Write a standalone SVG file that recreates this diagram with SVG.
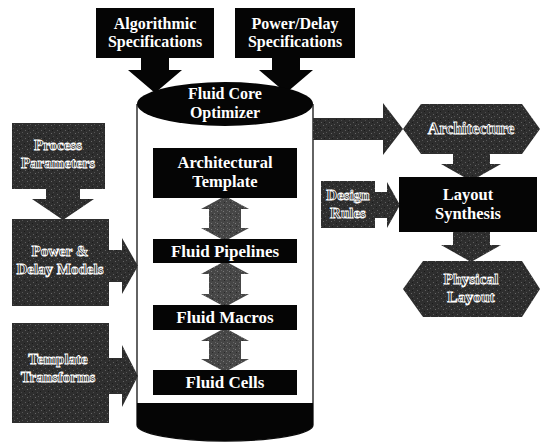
<svg xmlns="http://www.w3.org/2000/svg" width="541" height="445" viewBox="0 0 541 445">
<defs>
<pattern id="tex" width="8" height="8" patternUnits="userSpaceOnUse">
<rect width="8" height="8" fill="#2e2e2e"/>
<rect x="1" y="2" width="1" height="1" fill="#5e5e5e"/>
<rect x="5" y="0" width="1" height="1" fill="#4e4e4e"/>
<rect x="3" y="5" width="1" height="1" fill="#666"/>
<rect x="6" y="4" width="1" height="1" fill="#555"/>
<rect x="0" y="7" width="1" height="1" fill="#1a1a1a"/>
<rect x="4" y="2" width="1" height="1" fill="#1a1a1a"/>
</pattern>
<pattern id="texl" width="6" height="6" patternUnits="userSpaceOnUse">
<rect width="6" height="6" fill="#464646"/>
<rect x="1" y="1" width="1" height="1" fill="#7a7a7a"/>
<rect x="4" y="3" width="1" height="1" fill="#707070"/>
<rect x="2" y="4" width="1" height="1" fill="#2a2a2a"/>
<rect x="5" y="0" width="1" height="1" fill="#666"/>
</pattern>
</defs>
<style>
.w{font-family:"Liberation Serif","Times New Roman",serif;font-weight:bold;fill:#fff;text-anchor:middle}
.o{font-family:"Liberation Serif","Times New Roman",serif;font-weight:bold;fill:#262626;stroke:#fff;stroke-width:0.8;text-anchor:middle}
.blk{fill:#050505}
.tx{fill:url(#tex)}
.txl{fill:url(#texl)}
</style>
<rect width="541" height="445" fill="#fff"/>

<g id="cylinder">
<path d="M137,104 V425 A88,16 0 0 0 313,425 V104" fill="#fff" stroke="#111" stroke-width="1.3"/>
<path d="M137,403 H313 V425 A88,16 0 0 1 137,425 Z" class="blk"/>
</g>

<g id="connectors">
<polygon class="blk" points="141,57 169,57 169,70 182,70 155,93 128,70 141,70"/>
<polygon class="blk" points="272,57 300,57 300,70 313,70 286,93 259,70 272,70"/>
<polygon class="tx" points="46,188 80,188 80,199 94,199 63,220 32,199 46,199"/>
<polygon class="tx" points="108,250 122,250 122,238 138,266 122,294 122,282 108,282"/>
<polygon class="tx" points="108,358 122,358 122,345 138,376 122,407 122,394 108,394"/>
<polygon class="tx" points="313,118 383,118 383,103 403,129 383,155 383,140 313,140"/>
<polygon class="tx" points="453,152 490,152 490,164 501,164 471,181 441,164 453,164"/>
<polygon class="tx" points="453,230 490,230 490,245 501,245 471,262 441,245 453,245"/>
<polygon class="tx" points="374,192 387,192 387,182 400,205 387,228 387,218 374,218"/>
<polygon class="txl" points="225,196 249,209 241,209 241,228 249,228 225,241 201,228 209,228 209,209 201,209"/>
<polygon class="txl" points="225,261 249,274 241,274 241,294 249,294 225,307 201,294 209,294 209,274 201,274"/>
<polygon class="txl" points="225,328 249,341 241,341 241,359 249,359 225,372 201,359 209,359 209,341 201,341"/>
</g>

<g id="algorithmic-specifications">
<rect class="blk" x="96" y="8" width="118" height="50"/>
<text class="w" x="155" y="28.5" font-size="16">Algorithmic</text>
<text class="w" x="155" y="47" font-size="16">Specifications</text>
</g>

<g id="power-delay-specifications">
<rect class="blk" x="235" y="8" width="120" height="50"/>
<text class="w" x="295" y="28.5" font-size="16">Power/Delay</text>
<text class="w" x="295" y="47" font-size="16">Specifications</text>
</g>

<g id="fluid-core-optimizer">
<ellipse class="blk" cx="225" cy="104" rx="88" ry="22"/>
<text class="w" x="225" y="99" font-size="16">Fluid Core</text>
<text class="w" x="225" y="117.5" font-size="16">Optimizer</text>
</g>

<g id="architectural-template">
<rect class="blk" x="153" y="148" width="144" height="50"/>
<text class="w" x="225" y="167.5" font-size="16.5">Architectural</text>
<text class="w" x="225" y="186.5" font-size="16.5">Template</text>
</g>

<g id="fluid-pipelines">
<rect class="blk" x="153" y="239" width="144" height="24"/>
<text class="w" x="225" y="257" font-size="17">Fluid Pipelines</text>
</g>

<g id="fluid-macros">
<rect class="blk" x="153" y="305" width="144" height="25"/>
<text class="w" x="225" y="323" font-size="17">Fluid Macros</text>
</g>

<g id="fluid-cells">
<rect class="blk" x="153" y="370" width="144" height="25"/>
<text class="w" x="225" y="388" font-size="17">Fluid Cells</text>
</g>

<g id="process-parameters">
<rect class="tx" x="12" y="123" width="93" height="66"/>
<text class="o" x="58" y="150" font-size="15">Process</text>
<text class="o" x="58" y="167.5" font-size="15">Parameters</text>
</g>

<g id="power-delay-models">
<rect class="tx" x="12" y="219" width="97" height="87"/>
<text class="o" x="60" y="256" font-size="15">Power &amp;</text>
<text class="o" x="60" y="273.5" font-size="15">Delay Models</text>
</g>

<g id="template-transforms">
<rect class="tx" x="12" y="323" width="97" height="100"/>
<text class="o" x="58" y="364" font-size="15">Template</text>
<text class="o" x="58" y="381.5" font-size="15">Transforms</text>
</g>

<g id="architecture">
<polygon class="tx" points="403,129 421,104 522,104 540,129 522,154 421,154"/>
<text class="o" x="471" y="134" font-size="16">Architecture</text>
</g>

<g id="design-rules">
<rect class="tx" x="321" y="181" width="54" height="47"/>
<text class="o" x="348" y="200" font-size="15">Design</text>
<text class="o" x="348" y="217.5" font-size="15">Rules</text>
</g>

<g id="layout-synthesis">
<rect class="blk" x="399" y="177" width="138" height="55"/>
<text class="w" x="468" y="199.5" font-size="16.5">Layout</text>
<text class="w" x="468" y="218.5" font-size="16.5">Synthesis</text>
</g>

<g id="physical-layout">
<polygon class="tx" points="403,289 423,261 522,261 540,289 522,317 423,317"/>
<text class="o" x="471" y="284" font-size="15.5">Physical</text>
<text class="o" x="471" y="301.5" font-size="15.5">Layout</text>
</g>
</svg>
